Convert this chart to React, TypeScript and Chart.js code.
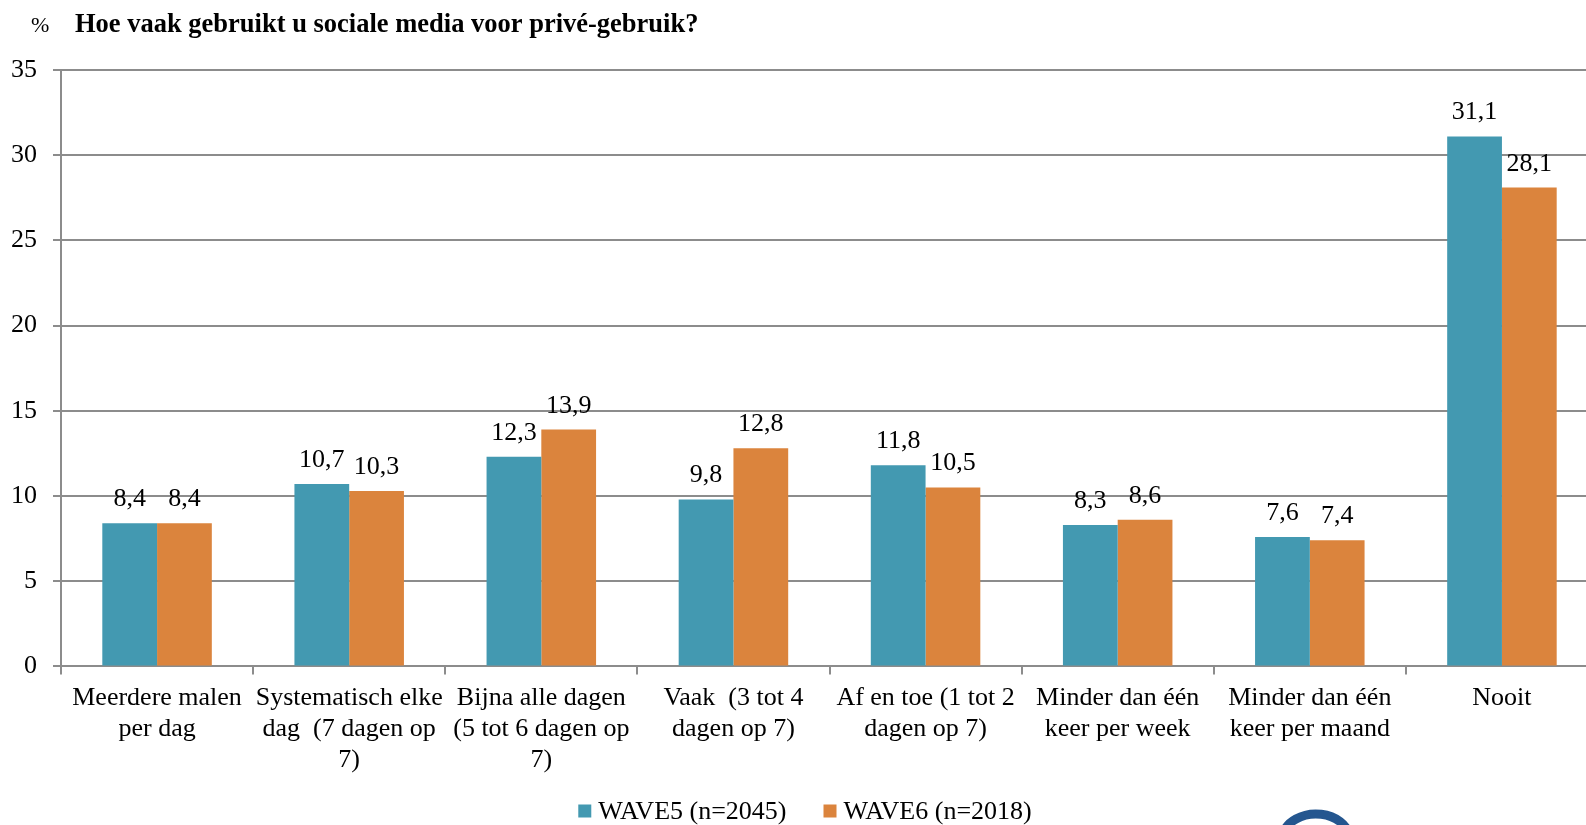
import React, { useEffect, useRef } from "react";
import { Chart, registerables } from "chart.js";

Chart.register(...registerables);

const categories: string[][] = [
  ["Meerdere malen", "per dag"],
  ["Systematisch elke", "dag  (7 dagen op", "7)"],
  ["Bijna alle dagen", "(5 tot 6 dagen op", "7)"],
  ["Vaak  (3 tot 4", "dagen op 7)"],
  ["Af en toe (1 tot 2", "dagen op 7)"],
  ["Minder dan één", "keer per week"],
  ["Minder dan één", "keer per maand"],
  ["Nooit"],
];

const wave5: number[] = [8.4, 10.7, 12.3, 9.8, 11.8, 8.3, 7.6, 31.1];
const wave6: number[] = [8.4, 10.3, 13.9, 12.8, 10.5, 8.6, 7.4, 28.1];

const seriesNames: string[] = ["WAVE5 (n=2045)", "WAVE6 (n=2018)"];
const yTicks: number[] = [0, 5, 10, 15, 20, 25, 30, 35];
const titlePrefix = "%";
const titleText = "Hoe vaak gebruikt u sociale media voor privé-gebruik?";

const BLUE = "#4399B1";
const ORANGE = "#DB843D";
const GRID = "#8C8C8C";
const FONT = "'Liberation Serif', 'Times New Roman', serif";

const fmt = (v: number) => v.toFixed(1).replace(".", ",");

const decorPlugin = {
  id: "decor",
  afterDatasetsDraw(chart: any) {
    const ctx = chart.ctx as CanvasRenderingContext2D;
    ctx.save();
    ctx.fillStyle = "#000";
    ctx.font = `26px ${FONT}`;
    ctx.textAlign = "center";
    ctx.textBaseline = "alphabetic";
    chart.data.datasets.forEach((ds: any, di: number) => {
      const meta = chart.getDatasetMeta(di);
      meta.data.forEach((bar: any, i: number) => {
        ctx.fillText(fmt(ds.data[i]), bar.x, bar.y - 17);
      });
    });
    ctx.restore();
  },
  afterDraw(chart: any) {
    const ctx = chart.ctx as CanvasRenderingContext2D;
    ctx.save();
    ctx.fillStyle = "#000";
    ctx.textBaseline = "alphabetic";
    ctx.textAlign = "left";
    ctx.font = `22px ${FONT}`;
    ctx.fillText(titlePrefix, 31, 32);
    ctx.font = `bold 26.5px ${FONT}`;
    ctx.fillText(titleText, 75, 32);

    ctx.font = `26px ${FONT}`;
    const box = 13;
    const gapBoxText = 7;
    const gapItems = 37;
    const colors = [BLUE, ORANGE];
    const widths = seriesNames.map((n) => ctx.measureText(n).width);
    const total =
      widths.reduce((a, b) => a + b, 0) + 2 * (box + gapBoxText) + gapItems;
    let x = 805 - total / 2;
    const cy = 811;
    ctx.textBaseline = "middle";
    seriesNames.forEach((n, i) => {
      ctx.fillStyle = colors[i];
      ctx.fillRect(x, cy - box / 2, box, box);
      x += box + gapBoxText;
      ctx.fillStyle = "#000";
      ctx.fillText(n, x, cy + 1);
      x += widths[i] + gapItems;
    });

    ctx.beginPath();
    ctx.strokeStyle = "#24568F";
    ctx.lineWidth = 9;
    ctx.ellipse(1316, 840, 34, 26, 0, Math.PI * 1.05, Math.PI * 1.95);
    ctx.stroke();
    ctx.restore();
  },
};

export default function App() {
  const ref = useRef<HTMLCanvasElement | null>(null);

  useEffect(() => {
    if (!ref.current) return;
    const chart = new Chart(ref.current, {
      type: "bar",
      data: {
        labels: categories,
        datasets: [
          {
            label: seriesNames[0],
            data: wave5,
            backgroundColor: BLUE,
            borderWidth: 0,
            categoryPercentage: 0.57,
            barPercentage: 1,
          },
          {
            label: seriesNames[1],
            data: wave6,
            backgroundColor: ORANGE,
            borderWidth: 0,
            categoryPercentage: 0.57,
            barPercentage: 1,
          },
        ],
      },
      options: {
        animation: false,
        responsive: false,
        devicePixelRatio: 1,
        layout: {
          autoPadding: false,
          padding: { left: 11, right: 12, top: 70, bottom: 41 },
        },
        plugins: {
          legend: { display: false },
          title: { display: false },
          tooltip: { enabled: false },
        },
        scales: {
          x: {
            offset: true,
            afterFit: (axis: any) => {
              axis.paddingLeft = 0;
              axis.paddingRight = 0;
            },
            grid: {
              display: true,
              offset: true,
              drawOnChartArea: false,
              drawTicks: true,
              tickLength: 8,
              color: GRID,
              lineWidth: 2,
            },
            border: { display: true, color: GRID, width: 2 },
            ticks: {
              color: "#000",
              font: { family: FONT, size: 26, lineHeight: 1.2 },
              padding: 8,
              maxRotation: 0,
              minRotation: 0,
              autoSkip: false,
            },
          },
          y: {
            min: 0,
            max: 35,
            afterBuildTicks: (axis: any) => {
              axis.ticks = yTicks.map((v) => ({ value: v }));
            },
            afterFit: (axis: any) => {
              axis.width = 50;
            },
            grid: {
              color: GRID,
              lineWidth: 2,
              tickLength: 8,
              drawTicks: true,
            },
            border: { display: true, color: GRID, width: 2 },
            ticks: {
              color: "#000",
              font: { family: FONT, size: 26 },
              padding: 16,
            },
          },
        },
      },
      plugins: [decorPlugin],
    });
    return () => chart.destroy();
  }, []);

  return (
    <div
      style={{
        position: "fixed",
        left: 0,
        top: 0,
        width: 1586,
        height: 825,
        overflow: "hidden",
        background: "#fff",
      }}
    >
      <canvas
        ref={ref}
        width={1610}
        height={825}
        style={{ width: 1610, height: 825, display: "block" }}
      />
    </div>
  );
}
